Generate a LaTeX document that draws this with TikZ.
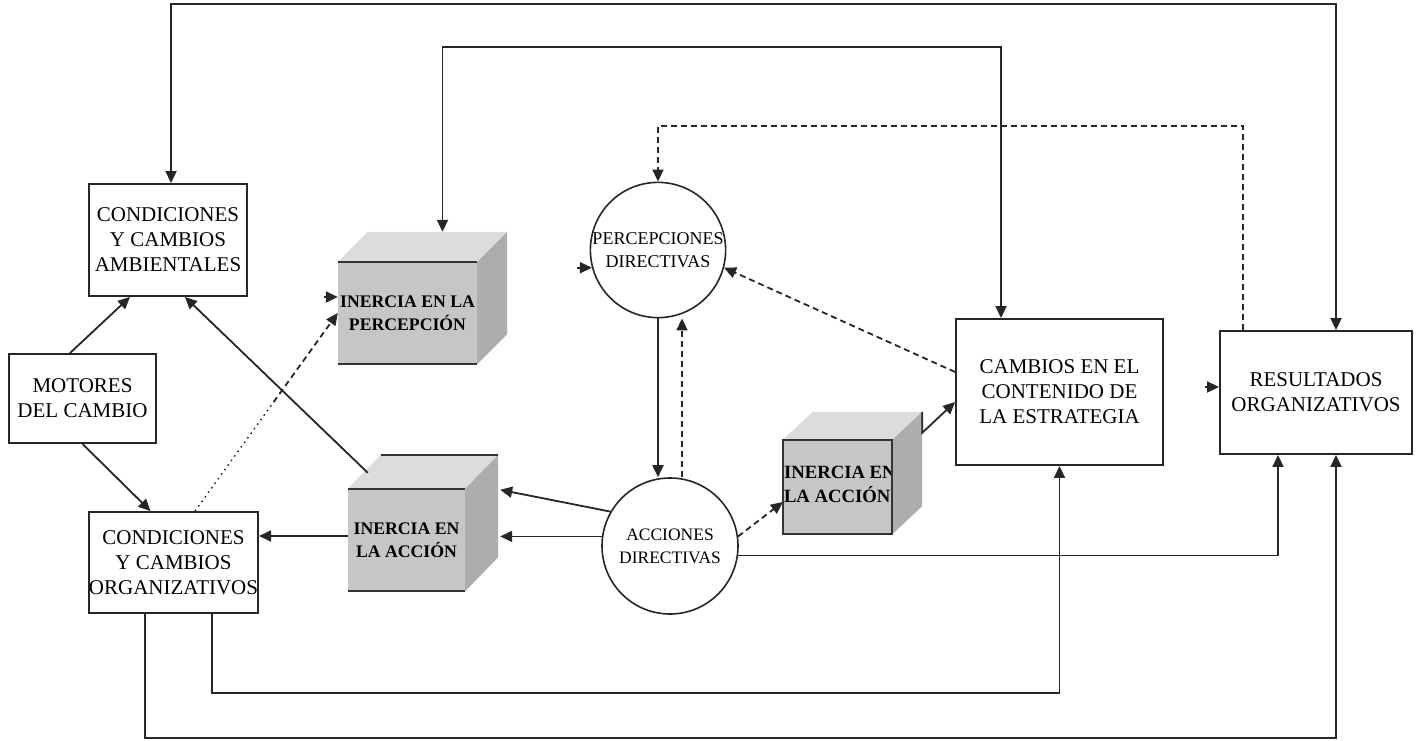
\documentclass[tikz,border=0pt]{standalone}
\usepackage{fontspec}
\setmainfont{Liberation Serif}
\usetikzlibrary{arrows.meta,calc}
\definecolor{frontgray}{HTML}{C6C6C6}
\definecolor{topgray}{HTML}{DCDCDC}
\definecolor{sidegray}{HTML}{ADADAD}
\definecolor{edgegray}{HTML}{333333}
\tikzset{
  ln/.style={line width=1.8pt, draw=black!85},
  arr/.style={ln, -{Triangle[length=12pt,width=11pt]}},
  twoarr/.style={ln, {Triangle[length=12pt,width=11pt]}-{Triangle[length=12pt,width=11pt]}},
  dsh/.style={dash pattern=on 6pt off 4pt},
  dotl/.style={dash pattern=on 1.6pt off 4pt},
  box/.style={draw=black!85, line width=1.9pt, align=center, inner sep=0pt,
    font=\fontsize{21}{25}\selectfont},
  circ/.style={draw=black!85, circle, line width=1.6pt, align=center, inner sep=0pt,
    font=\fontsize{17.5}{23}\selectfont},
  cubefront/.style={fill=frontgray, inner sep=0pt, align=center,
    font=\bfseries\fontsize{17.7}{23}\selectfont},
  topface/.style={fill=topgray},
  sideface/.style={fill=sidegray},
  cubeedge/.style={line width=2.2pt, draw=edgegray},
}
\begin{document}
\begin{tikzpicture}[x=1pt,y=-1pt]
\fill[white] (0,0) rectangle (1418,741);
\useasboundingbox (0,0) rectangle (1418,741);

% rectangular blocks
\node[box, minimum width=158pt, minimum height=112pt] (amb) at (168,240)
  {CONDICIONES\\Y CAMBIOS\\AMBIENTALES};
\node[box, minimum width=147pt, minimum height=89pt] (mot) at (82.5,398.5)
  {MOTORES\\DEL CAMBIO};
\node[box, minimum width=169pt, minimum height=101pt] (org) at (173.5,562.5)
  {CONDICIONES\\Y CAMBIOS\\ORGANIZATIVOS};
\node[box, minimum width=207pt, minimum height=146pt] (camb) at (1059.5,392)
  {CAMBIOS EN EL\\CONTENIDO DE\\LA ESTRATEGIA};
\node[box, minimum width=192pt, minimum height=123pt] (res) at (1316,392.5)
  {RESULTADOS\\ORGANIZATIVOS};

% circles
\node[circ, minimum size=134pt, font=\fontsize{18}{23}\selectfont] (perc) at (658,250)
  {PERCEPCIONES\\DIRECTIVAS};
\node[circ, minimum size=136pt] (acc) at (670,546)
  {ACCIONES\\DIRECTIVAS};

% cube: inercia en la percepcion
\node[cubefront, minimum width=139pt, minimum height=102pt] (c1) at (407.5,313)
  {INERCIA EN LA\\PERCEPCIÓN};
\fill[topface] (c1.north west) -- ($(c1.north west)+(30,-30)$) -- ($(c1.north east)+(30,-30)$) -- (c1.north east) -- cycle;
\fill[sideface] (c1.north east) -- ($(c1.north east)+(30,-30)$) -- ($(c1.south east)+(30,-30)$) -- (c1.south east) -- cycle;
\draw[cubeedge] (c1.north west) -- (c1.north east);
\draw[cubeedge] (c1.south west) -- (c1.south east);

% cube: inercia en la accion (left)
\node[cubefront, minimum width=117pt, minimum height=102pt] (c2) at (406.5,540)
  {INERCIA EN\\LA ACCIÓN};
\fill[topface] (c2.north west) -- ($(c2.north west)+(33,-34)$) -- ($(c2.north east)+(33,-34)$) -- (c2.north east) -- cycle;
\fill[sideface] (c2.north east) -- ($(c2.north east)+(33,-34)$) -- ($(c2.south east)+(33,-34)$) -- (c2.south east) -- cycle;
\draw[cubeedge] (c2.north west) -- (c2.north east);
\draw[cubeedge] (c2.south west) -- (c2.south east);
\draw[cubeedge] ($(c2.north west)+(33,-34)$) -- ($(c2.north east)+(33,-34)$);

% cube: inercia en la accion (right)
\node[cubefront, minimum width=109pt, minimum height=94pt] (c3) at (837.5,487) {};
\fill[topface] (c3.north west) -- ($(c3.north west)+(30,-28)$) -- ($(c3.north east)+(30,-28)$) -- (c3.north east) -- cycle;
\fill[sideface] (c3.north east) -- ($(c3.north east)+(30,-28)$) -- ($(c3.south east)+(30,-28)$) -- (c3.south east) -- cycle;
\begin{scope}
  \clip (c3.south west) rectangle (c3.north east);
  \node[anchor=west, align=left, inner sep=0pt, font=\bfseries\fontsize{18.7}{24}\selectfont]
    (c3txt) at ($(c3.west)+(1,-3)$) {INERCIA EN\\LA ACCIÓN};
\end{scope}
\draw[line width=1.6pt, draw=edgegray] (c3.south west) rectangle (c3.north east);

% solid connectors along the top
\draw[twoarr] ([xshift=20pt]res.north) -- ++(0,-326) -| ([xshift=3pt]amb.north);
\draw[twoarr] ([xshift=-58.5pt]camb.north) -- ++(0,-271) -| ($(c1.north)+(35,-30)$);

% dashed feedback from results to perceptions
\draw[arr, dsh] ([xshift=-73pt]res.north) -- ++(0,-204) -| (perc.north);

% strategy change back to perceptions
\draw[arr, dsh] ([yshift=20pt]camb.west) -- (perc.-15);

% perceptions <-> actions
\draw[arr] (perc.south) -- (perc.south |- acc.north);
\draw[arr, dsh] ([xshift=12pt]acc.north) -- ([xshift=12pt]acc.north |- perc.south);

% actions to left inertia cube
\draw[arr] (acc.150) -- ($(c2.north east)+(35,1)$);
\draw[arr] (acc.172) -- ($(acc.172 -| c2.north east)+(35,0)$);

% left inertia cube to the condition blocks
\draw[arr] ([yshift=4pt]c2.west) -- ([yshift=4pt]c2.west -| org.east);
\draw[arr] ($(c2.north west)+(20,-16)$) -- ($(amb.south east)+(-63,0)$);

% drivers of change
\draw[arr] ([xshift=-12.5pt]mot.north) -- ([xshift=-38pt]amb.south);
\draw[arr] (mot.south) -- ([xshift=-23pt]org.north);

% organizational conditions to perception inertia (dotted, then dashed)
\coordinate (dstart) at ([xshift=21.5pt]org.north);
\coordinate (dend) at (c1.west);
\coordinate (dmid) at ($(dstart)!0.55!(dend)$);
\draw[ln, line width=1.4pt, dotl] (dstart) -- (dmid);
\draw[arr, dsh] (dmid) -- (dend);

% short arrow marks
\draw[arr] ($(c1.west)+(-14,-16)$) -- ($(c1.west)+(0,-16)$);
\draw[arr] ($(perc.-165)+(-15,0)$) -- (perc.-165);
\draw[arr] ($([yshift=5.5pt]res.west)+(-14,0)$) -- ([yshift=5.5pt]res.west);

% actions to right inertia cube, then to strategy change
\draw[arr, dsh] (acc.8) -- ($(c3.west)+(0,15)$);
\draw[arr] ($(c3.north east)+(30,-28)$) -- ($(c3.north east)+(30,-7)$) -- ($(camb.west)+(0,10)$);

% actions to results
\draw[arr] (acc.-8.5) -| ([xshift=-38pt]res.south);

% organizational conditions to strategy change and results
\draw[arr] ([xshift=38.5pt]org.south) -- ++(0,79) -| (camb.south);
\draw[arr] ([xshift=-28.5pt]org.south) -- ++(0,124) -| ([xshift=20pt]res.south);
\end{tikzpicture}
\end{document}
